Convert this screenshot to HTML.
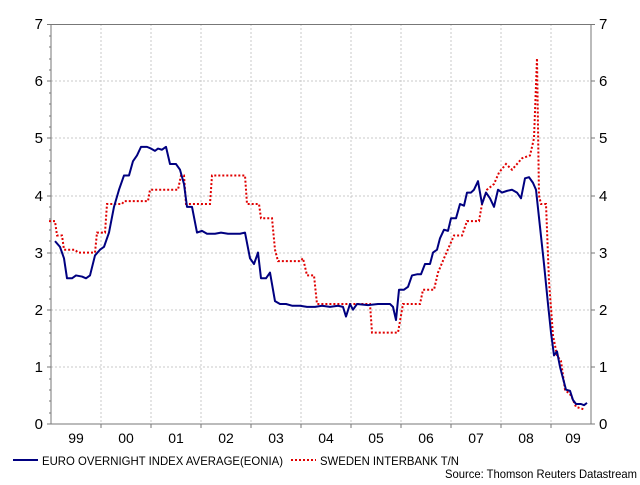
<!DOCTYPE html>
<html><head><meta charset="utf-8"><style>
body{margin:0;background:#fff;}
text{font-family:"Liberation Sans",Arial,sans-serif;fill:#000;}
</style></head><body>
<svg width="640" height="480" viewBox="0 0 640 480" xmlns="http://www.w3.org/2000/svg">
<rect width="640" height="480" fill="#fff"/>
<g stroke="#c8c8c8" stroke-width="1" stroke-dasharray="2,2">
<line x1="51" y1="367" x2="591" y2="367"/><line x1="51" y1="310" x2="591" y2="310"/>
<line x1="51" y1="253" x2="591" y2="253"/><line x1="51" y1="196" x2="591" y2="196"/>
<line x1="51" y1="138" x2="591" y2="138"/><line x1="51" y1="81" x2="591" y2="81"/>
<line x1="101" y1="24" x2="101" y2="424"/><line x1="151" y1="24" x2="151" y2="424"/>
<line x1="201" y1="24" x2="201" y2="424"/><line x1="251" y1="24" x2="251" y2="424"/>
<line x1="301" y1="24" x2="301" y2="424"/><line x1="351" y1="24" x2="351" y2="424"/>
<line x1="401" y1="24" x2="401" y2="424"/><line x1="451" y1="24" x2="451" y2="424"/>
<line x1="501" y1="24" x2="501" y2="424"/><line x1="551" y1="24" x2="551" y2="424"/>
</g>
<g stroke="#777" stroke-width="1" fill="none">
<polyline points="51,424 51,24.5 591,24.5 591,424"/>
<line x1="47" y1="424" x2="595" y2="424"/>
<path d="M47 24.5h4M47 81h4M47 138h4M47 196h4M47 253h4M47 310h4M47 367h4M591 24.5h4M591 81h4M591 138h4M591 196h4M591 253h4M591 310h4M591 367h4"/>
<path d="M49 36h2M49 47h2M49 59h2M49 70h2M49 93h2M49 104h2M49 116h2M49 127h2M49 150h2M49 161h2M49 173h2M49 184h2M49 207h2M49 219h2M49 230h2M49 241h2M49 264h2M49 276h2M49 287h2M49 299h2M49 321h2M49 333h2M49 344h2M49 356h2M49 379h2M49 390h2M49 401h2M49 413h2"/>
<path d="M101 424v4M151 424v4M201 424v4M251 424v4M301 424v4M351 424v4M401 424v4M451 424v4M501 424v4M551 424v4"/>
</g>
<g font-size="15" text-anchor="end">
<text x="43" y="429">0</text><text x="43" y="372">1</text><text x="43" y="315">2</text><text x="43" y="258">3</text><text x="43" y="201">4</text><text x="43" y="143">5</text><text x="43" y="86">6</text><text x="43" y="29">7</text>
</g>
<g font-size="15">
<text x="599" y="429">0</text><text x="599" y="372">1</text><text x="599" y="315">2</text><text x="599" y="258">3</text><text x="599" y="201">4</text><text x="599" y="143">5</text><text x="599" y="86">6</text><text x="599" y="29">7</text>
</g>
<g font-size="14" text-anchor="middle">
<text x="76" y="443">99</text><text x="126" y="443">00</text><text x="176" y="443">01</text><text x="226" y="443">02</text><text x="276" y="443">03</text><text x="326" y="443">04</text><text x="376" y="443">05</text><text x="426" y="443">06</text><text x="476" y="443">07</text><text x="526" y="443">08</text><text x="573" y="443">09</text>
</g>
<g transform="translate(0,424) scale(1,-57.14)" fill="none">
<polyline vector-effect="non-scaling-stroke" stroke="#e00000" stroke-width="2" stroke-dasharray="2,2" points="49,3.55 55,3.55 57,3.3 62,3.3 64,3.05 75,3.05 78,3.0 95,3.0 97,3.35 105,3.35 107,3.85 122,3.85 124,3.9 148,3.9 150,4.1 178,4.1 181,4.35 184,4.35 186,3.85 210,3.85 212,4.35 245,4.35 247,3.85 259,3.85 261,3.6 272,3.6 275,3.05 278,2.85 300,2.85 303,2.9 307,2.6 314,2.6 317,2.1 370,2.1 372,1.6 398,1.6 403,2.1 420,2.1 423,2.35 434,2.35 438,2.65 444,2.9 449,3.1 454,3.3 462,3.3 467,3.55 479,3.55 482,3.85 487,4.1 494,4.2 499,4.4 506,4.55 512,4.45 522,4.65 530,4.7 534,5.0 537,6.4 539,4.0 541,3.85 546,3.85 549,2.5 553,1.55 557,1.2 561,1.1 565,0.6 571,0.5 576,0.3 585,0.25"/>
<polyline vector-effect="non-scaling-stroke" stroke="#000080" stroke-width="2" stroke-linejoin="round" points="55,3.2 60,3.1 64,2.9 67,2.55 72,2.55 76,2.6 82,2.58 86,2.55 90,2.6 95,2.95 100,3.05 104,3.1 109,3.35 114,3.8 119,4.1 124,4.35 129,4.35 133,4.6 137,4.7 141,4.85 147,4.85 151,4.82 155,4.78 158,4.82 162,4.8 166,4.85 170,4.55 176,4.55 180,4.45 184,4.2 187,3.8 192,3.8 197,3.35 202,3.38 207,3.33 215,3.33 221,3.35 228,3.33 240,3.33 245,3.35 250,2.9 254,2.8 258,3.0 261,2.55 266,2.55 270,2.65 275,2.15 280,2.1 286,2.1 292,2.07 300,2.07 307,2.05 315,2.05 322,2.07 330,2.05 338,2.07 343,2.05 346,1.88 350,2.1 353,2.0 357,2.1 368,2.08 378,2.1 390,2.1 393,2.05 396,1.82 399,2.35 404,2.35 408,2.4 412,2.6 417,2.62 421,2.62 425,2.8 430,2.8 433,3.0 437,3.05 440,3.25 444,3.4 448,3.38 451,3.6 456,3.6 460,3.85 464,3.82 467,4.05 471,4.05 474,4.1 478,4.25 482,3.85 486,4.05 490,3.95 494,3.8 498,4.1 502,4.05 507,4.08 512,4.1 517,4.05 521,3.95 525,4.3 529,4.32 533,4.22 536,4.1 540,3.45 544,2.8 548,2.1 551,1.6 554,1.2 557,1.27 560,1.0 563,0.8 566,0.6 570,0.58 573,0.42 576,0.35 581,0.35 584,0.33 587,0.37"/>
</g>
<line x1="13" y1="460" x2="38" y2="460" stroke="#000080" stroke-width="2"/>
<text x="42" y="465" font-size="12" textLength="241" lengthAdjust="spacingAndGlyphs">EURO OVERNIGHT INDEX AVERAGE(EONIA)</text>
<line x1="291" y1="460" x2="316" y2="460" stroke="#e00000" stroke-width="2" stroke-dasharray="2,2"/>
<text x="320" y="465" font-size="12" textLength="139" lengthAdjust="spacingAndGlyphs">SWEDEN INTERBANK T/N</text>
<text x="445" y="478" font-size="12" textLength="192" lengthAdjust="spacingAndGlyphs">Source: Thomson Reuters Datastream</text>
</svg>
</body></html>
